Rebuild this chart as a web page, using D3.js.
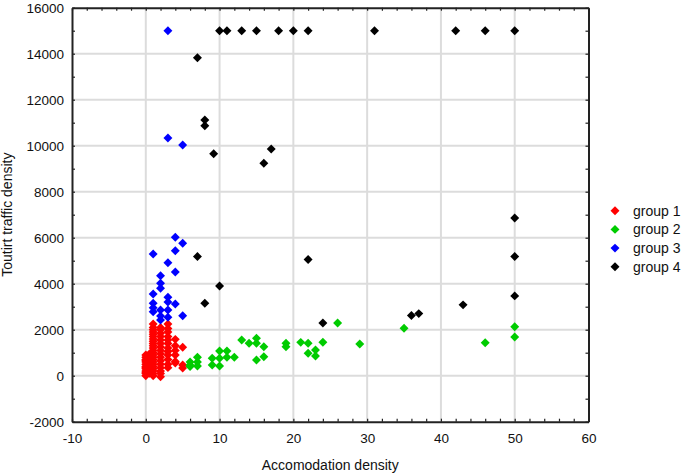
<!DOCTYPE html>
<html>
<head>
<meta charset="utf-8">
<script src="https://cdn.jsdelivr.net/npm/d3@7"></script>
<style>
  body { margin: 0; background: #fff; }
  text { font-family: "Liberation Sans", Arial, sans-serif; fill: #111; }
</style>
</head>
<body>
<div id="chart"></div>
<script>
// Data (accomodation density, tourist traffic density)

var groupNames = ["group 1", "group 2", "group 3", "group 4"];
var groupColors = ["#ff0000", "#00cc00", "#0000ff", "#000000"];

var group1 = [
  [0,0],[0,100],[0,200],[0,300],[0,400],[0,500],[0,600],[0,700],[0,800],[0,900],[0,150],[0,350],[0,650],
  [0.5,100],[0.5,300],[0.5,550],[0.5,750],[0.5,950],
  [1,0],[1,100],[1,200],[1,300],[1,400],[1,500],[1,600],[1,700],[1,800],[1,900],[1,1000],[1,1100],
  [1,1200],[1,1300],[1,1400],[1,1500],[1,1600],[1,1700],[1,1800],[1,1900],[1,2000],[1,2100],[1,2250],
  [2,-50],[2,100],[2,200],[2,350],[2,500],[2,650],[2,800],[2,950],[2,1100],[2,1250],[2,1400],
  [2,1550],[2,1700],[2,1850],[2,2000],[2,2100],
  [3,350],[3,500],[3,700],[3,900],[3,1050],[3,1200],[3,1400],[3,1550],[3,1700],[3,1900],[3,2050],[3,2250],
  [4,550],[4,620],[4,900],[4,1100],[4,1300],[4,1580],
  [5,335],[5,465],[5,1235]
];

var group2 = [
  [6,400],[6,600],[6,465],[7,800],[7,420],[7,600],[9,756],[9,465],[10,1074],[10,756],[10,420],
  [11,1074],[11,800],[12,800],[13,1552],[14,1409],[15,1626],[15,1409],[15,683],[16,1261],[16,826],
  [19,1409],[19,1261],[21,1450],[22,1409],[22,974],[23,1117],[23,856],[24,1452],[26,2291],
  [29,1378],[35,2061],[46,1435],[50,2130],[50,1683]
];

var group3 = [
  [3,15000],[3,10335],[5,10031],[4,6017],[5,5756],[1,5290],[4,5435],[3,4913],[4,4509],[2,4348],
  [2,4017],[2,3800],[1,3552],[3,3409],[3,3200],[4,3117],[1,3150],[1,2950],[1,2780],[3,2857],
  [2,2857],[2,2600],[2,2420],[5,2609],[3,2540]
];

var group4 = [
  [10,15000],[11,15000],[13,15000],[15,15000],[18,15000],[20,15000],[22,15000],[31,15000],
  [42,15000],[46,15000],[50,15000],[7,13820],[8,11120],[8,10870],[9.2,9650],[16,9240],[17,9860],
  [22,5050],[7,5180],[10,3900],[8,3150],[24,2290],[36,2620],[37,2700],[50,6860],[50,5180],
  [50,3470],[43,3080]
];

var groups = [group1, group2, group3, group4];

var xTicks = d3.range(-10, 61, 2);
var yTicks = d3.range(-2000, 16001, 1000);

// Layout

var width = 685, height = 476;
var plotLeft = 72, plotRight = 588.5, plotTop = 7.7, plotBottom = 421.7;

var svg = d3.select("#chart").append("svg")
  .attr("width", width).attr("height", height);

var x = d3.scaleLinear().domain([-10, 60]).range([plotLeft, plotRight]);
var y = d3.scaleLinear().domain([-2000, 16000]).range([plotBottom, plotTop]);

// Grid

svg.append("g").selectAll("line").data(xTicks.filter(function(d){ return d % 10 == 0 && d > -10 && d < 60; }))
  .enter().append("line")
  .attr("x1", function(d){ return x(d); }).attr("x2", function(d){ return x(d); })
  .attr("y1", plotTop).attr("y2", plotBottom)
  .style("stroke", "#dcdcdc").style("stroke-width", 2);

svg.append("g").selectAll("line").data(yTicks.filter(function(d){ return d % 2000 == 0 && d > -2000 && d < 16000; }))
  .enter().append("line")
  .attr("x1", plotLeft).attr("x2", plotRight)
  .attr("y1", function(d){ return y(d); }).attr("y2", function(d){ return y(d); })
  .style("stroke", "#dcdcdc").style("stroke-width", 2);

// Axes (inward ticks on all four sides)

function styleAxis(g) {
  g.select(".domain").style("stroke", "#222").style("stroke-width", 2);
  g.selectAll(".tick line").style("stroke", "#222").style("stroke-width", 1.2);
  g.selectAll("text").style("font-size", "13.5px").style("font-family", "'Liberation Sans', Arial, sans-serif").style("fill", "#111");
}

svg.append("g").attr("transform", "translate(0," + plotBottom + ")")
  .call(d3.axisBottom(x).tickValues(xTicks).tickSizeInner(-3).tickSizeOuter(0).tickPadding(12)
    .tickFormat(function(d){ return d % 10 == 0 ? d : ""; }))
  .call(styleAxis);

svg.append("g").attr("transform", "translate(0," + plotTop + ")")
  .call(d3.axisTop(x).tickValues(xTicks).tickSizeInner(-3).tickSizeOuter(0).tickFormat(""))
  .call(styleAxis);

svg.append("g").attr("transform", "translate(" + plotLeft + ",0)")
  .call(d3.axisLeft(y).tickValues(yTicks).tickSizeInner(-3).tickSizeOuter(0).tickPadding(8)
    .tickFormat(function(d){ return d % 2000 == 0 ? d : ""; }))
  .call(styleAxis);

svg.append("g").attr("transform", "translate(" + plotRight + ",0)")
  .call(d3.axisRight(y).tickValues(yTicks).tickSizeInner(-3).tickSizeOuter(0).tickFormat(""))
  .call(styleAxis);

// Points

var diamond = d3.symbol().type(d3.symbolSquare).size(40);

groups.forEach(function(pts, i){
  svg.append("g").selectAll("path").data(pts).enter().append("path")
    .attr("d", diamond)
    .attr("transform", function(d){ return "translate(" + x(d[0]) + "," + y(d[1]) + ")rotate(45)"; })
    .style("fill", groupColors[i]).style("stroke", "none");
});

// Legend

var legend = svg.append("g").selectAll("g").data(groupNames).enter().append("g")
  .attr("transform", function(d, i){ return "translate(615," + (210.7 + i * 18.7) + ")"; });

legend.append("path").attr("d", diamond).attr("transform", "rotate(45)")
  .style("fill", function(d, i){ return groupColors[i]; });

legend.append("text").attr("x", 18).attr("dy", "0.35em")
  .style("font-size", "14px").text(function(d){ return d; });

// Axis titles

svg.append("text").attr("x", (plotLeft + plotRight) / 2).attr("y", 470)
  .attr("text-anchor", "middle").style("font-size", "14px")
  .text("Accomodation density");

svg.append("text").attr("transform", "translate(12," + ((plotTop + plotBottom) / 2) + ")rotate(-90)")
  .attr("text-anchor", "middle").style("font-size", "14px")
  .text("Toutirt traffic density");
</script>
</body>
</html>
